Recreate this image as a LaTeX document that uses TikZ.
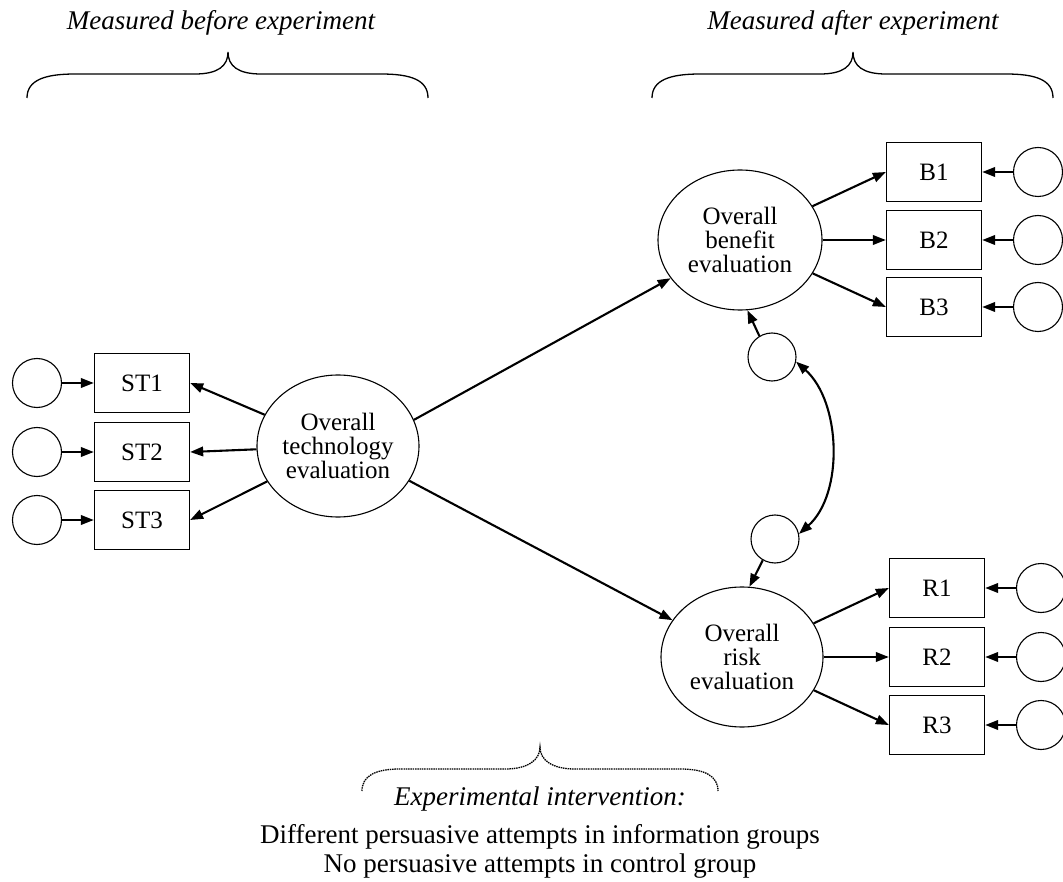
\documentclass[tikz,border=0pt]{standalone}
\usepackage{fontspec}
\setmainfont{Liberation Serif}
\usetikzlibrary{shapes.geometric,arrows.meta}
\begin{document}
\begin{tikzpicture}[x=1pt,y=-1pt,
  font=\fontsize{25}{24}\selectfont,
  latent/.style={draw,ellipse,line width=1.1pt,inner sep=0pt,align=center},
  errterm/.style={draw,circle,line width=1.1pt,minimum size=49pt,inner sep=0pt},
  indicator/.style={draw,rectangle,line width=1.3pt,minimum width=95pt,minimum height=59pt,inner sep=0pt},
  effect/.style={line width=2.1pt,-{Triangle[length=13pt,width=9.5pt]}},
  covar/.style={line width=2.1pt,{Triangle[length=13pt,width=9.5pt]}-{Triangle[length=13pt,width=9.5pt]}},
  bracket/.style={line width=1.3pt},
  heading/.style={anchor=base,font=\fontsize{27}{30}\selectfont\itshape,inner sep=0pt},
  note/.style={anchor=base,font=\fontsize{27}{30}\selectfont,inner sep=0pt}]
\useasboundingbox (0,0) rectangle (1063,882);

% time labels and braces
\node[heading] (before) at (221,30) {Measured before experiment};
\node[heading] (after) at (853,30) {Measured after experiment};
\draw[bracket] (27,98) .. controls (27,80) and (45,74) .. (75,74) -- (195,74)
  .. controls (218,74) and (228,66) .. (228,52)
  .. controls (228,66) and (238,74) .. (261,74) -- (381,74)
  .. controls (411,74) and (428,80) .. (428,98);
\draw[bracket] (652,98) .. controls (652,80) and (670,74) .. (700,74) -- (820,74)
  .. controls (843,74) and (853,66) .. (853,52)
  .. controls (853,66) and (863,74) .. (886,74) -- (1006,74)
  .. controls (1036,74) and (1053,80) .. (1053,98);
\draw[bracket,dash pattern=on 1.5pt off 0.8pt] (362,791) .. controls (362,776) and (375,769) .. (400,769) -- (505,769)
  .. controls (528,769) and (540,760) .. (540,747)
  .. controls (540,760) and (552,769) .. (575,769) -- (680,769)
  .. controls (705,769) and (718,776) .. (718,791);

% latent constructs
\node[latent,minimum width=162pt,minimum height=142pt] (tech) at (338,446) {Overall\\technology\\evaluation};
\node[latent,minimum width=164pt,minimum height=140pt] (benefit) at (740,240) {Overall\\benefit\\evaluation};
\node[latent,minimum width=162pt,minimum height=140pt] (risk) at (742,657) {Overall\\risk\\evaluation};

% indicators
\node[indicator] (st1) at (142,383) {ST1};
\node[indicator] (st2) at (142,452) {ST2};
\node[indicator] (st3) at (142,520) {ST3};
\node[indicator] (b1) at (934,172) {B1};
\node[indicator] (b2) at (934,240) {B2};
\node[indicator] (b3) at (934,307) {B3};
\node[indicator] (r1) at (937,588) {R1};
\node[indicator] (r2) at (937,657) {R2};
\node[indicator] (r3) at (937,725) {R3};

% error terms
\node[errterm] (est1) at (37,383) {};
\node[errterm] (est2) at (37,452) {};
\node[errterm] (est3) at (37,520) {};
\node[errterm] (eb1) at (1038,172) {};
\node[errterm] (eb2) at (1038,240) {};
\node[errterm] (eb3) at (1038,307) {};
\node[errterm] (er1) at (1041,588) {};
\node[errterm] (er2) at (1041,657) {};
\node[errterm] (er3) at (1041,725) {};
\node[errterm,minimum size=48pt] (dben) at (772,357) {};
\node[errterm,minimum size=48pt] (drisk) at (775,539) {};

% measurement paths
\foreach \i in {1,2,3} {
  \draw[effect] (est\i) -- (st\i);
  \draw[effect] (tech) -- (st\i.east);
  \draw[effect] (benefit) -- (b\i.west);
  \draw[effect] (eb\i) -- (b\i);
  \draw[effect] (risk) -- (r\i.west);
  \draw[effect] (er\i) -- (r\i);
}

% structural paths
\draw[effect] (tech.19) -- (benefit);
\draw[effect] (tech.-26) -- (risk);
\draw[effect] (dben.121) -- (benefit.-84);
\draw[effect] (drisk.-120) -- (risk.84);
\draw[covar] (dben.-11) .. controls +(45,40) and +(45,-40) .. (drisk.12);

% intervention note
\node[heading] (interv) at (540,805) {Experimental intervention:};
\node[note] (info) at (540,843) {Different persuasive attempts in information groups};
\node[note] (ctrl) at (540,872) {No persuasive attempts in control group};
\end{tikzpicture}
\end{document}
